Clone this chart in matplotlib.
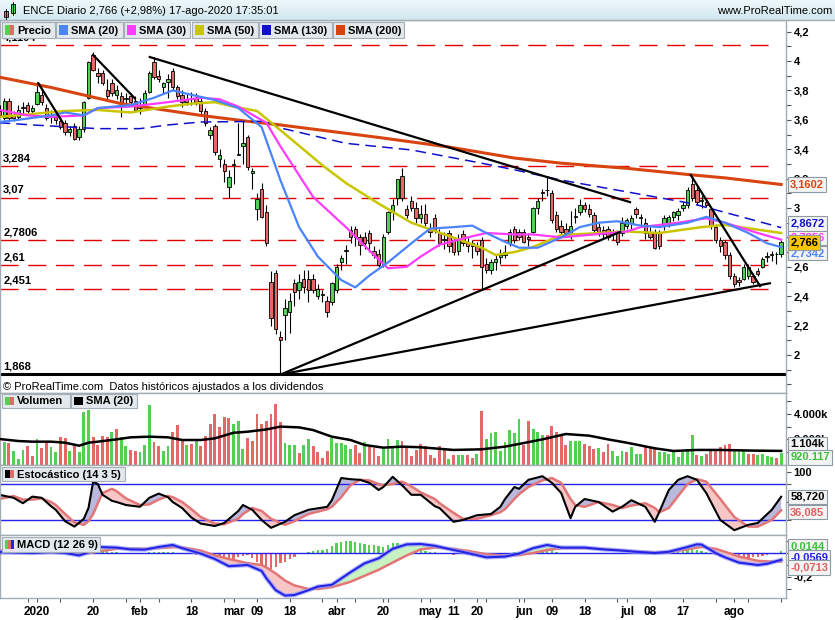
import numpy as np
import matplotlib
matplotlib.use("Agg")
import matplotlib.pyplot as plt
from matplotlib.patches import Rectangle
from matplotlib.colors import LinearSegmentedColormap

plt.rcParams['font.family'] = ['Liberation Sans', 'DejaVu Sans']

# ---- daily candles, 18-dic-2019 .. 17-ago-2020 (index = trading day)
opens = [3.66, 3.61, 3.73, 3.63, 3.62, 3.68, 3.70, 3.66, 3.71, 3.77,
         3.68, 3.63, 3.62, 3.59, 3.58, 3.52, 3.56, 3.48, 3.54, 3.75,
         4.04, 3.92, 3.92, 3.80, 3.85, 3.77, 3.76, 3.74, 3.76, 3.73,
         3.68, 3.71, 3.79, 3.99, 3.90, 3.82, 3.86, 3.93, 3.82, 3.77,
         3.74, 3.74, 3.75, 3.73, 3.66, 3.50, 3.56, 3.33, 3.30, 3.14,
         3.29, 3.36, 3.42, 3.48, 3.24, 2.99, 3.13, 2.97, 2.50, 2.56,
         2.12, 2.27, 2.29, 2.49, 2.44, 2.52, 2.52, 2.52, 2.40, 2.41,
         2.37, 2.36, 2.44, 2.63, 2.71, 2.85, 2.86, 2.80, 2.80, 2.83,
         2.71, 2.69, 2.61, 2.84, 2.97, 3.07, 3.22, 2.99, 3.05, 3.00,
         2.93, 2.96, 2.86, 2.93, 2.83, 2.78, 2.83, 2.78, 2.71, 2.82,
         2.76, 2.76, 2.74, 2.78, 2.62, 2.58, 2.63, 2.67, 2.68, 2.76,
         2.86, 2.84, 2.84, 2.80, 2.84, 3.00, 3.11, 3.12, 3.10, 2.95,
         2.88, 2.86, 2.81, 2.94, 2.97, 3.02, 2.99, 2.95, 2.87, 2.85,
         2.86, 2.82, 2.83, 2.83, 2.88, 2.90, 2.99, 2.93, 2.90, 2.84,
         2.84, 2.83, 2.88, 2.89, 2.94, 2.95, 3.00, 3.02, 3.16, 3.12,
         3.05, 3.04, 2.99, 2.87, 2.78, 2.77, 2.68, 2.54, 2.51, 2.52,
         2.54, 2.54, 2.57, 2.60, 2.67, 2.69, 2.69, 2.69]
highs = [3.70, 3.75, 3.75, 3.66, 3.70, 3.72, 3.72, 3.70, 3.86, 3.80,
         3.71, 3.67, 3.65, 3.61, 3.60, 3.56, 3.58, 3.56, 3.73, 4.00,
         4.06, 3.95, 3.94, 3.88, 3.88, 3.84, 3.79, 3.78, 3.78, 3.76,
         3.75, 3.80, 3.93, 4.03, 3.94, 3.86, 3.91, 3.95, 3.84, 3.80,
         3.78, 3.79, 3.78, 3.76, 3.68, 3.55, 3.57, 3.40, 3.33, 3.26,
         3.33, 3.58, 3.60, 3.50, 3.27, 3.10, 3.17, 3.02, 2.57, 2.58,
         2.16, 2.38, 2.42, 2.52, 2.55, 2.58, 2.58, 2.55, 2.48, 2.44,
         2.40, 2.50, 2.62, 2.68, 2.75, 2.88, 2.88, 2.82, 2.84, 2.85,
         2.74, 2.72, 2.82, 2.98, 3.06, 3.20, 3.27, 3.02, 3.08, 3.04,
         3.02, 3.03, 2.90, 2.96, 2.86, 2.84, 2.85, 2.80, 2.82, 2.85,
         2.80, 2.78, 2.77, 2.80, 2.66, 2.65, 2.68, 2.72, 2.75, 2.86,
         2.88, 2.86, 2.86, 2.83, 3.01, 3.07, 3.13, 3.22, 3.12, 2.98,
         2.92, 2.90, 2.98, 3.00, 3.06, 3.04, 3.03, 2.97, 2.90, 2.88,
         2.88, 2.86, 2.85, 2.94, 2.93, 2.95, 3.01, 2.96, 2.93, 2.87,
         2.86, 2.85, 2.95, 2.95, 2.98, 3.00, 3.04, 3.14, 3.22, 3.14,
         3.09, 3.06, 3.00, 2.89, 2.80, 2.78, 2.70, 2.56, 2.53, 2.62,
         2.62, 2.56, 2.59, 2.67, 2.70, 2.71, 2.70, 2.78]
lows = [3.62, 3.60, 3.59, 3.59, 3.60, 3.64, 3.64, 3.63, 3.70, 3.70,
        3.60, 3.58, 3.57, 3.54, 3.50, 3.49, 3.46, 3.46, 3.52, 3.74,
        3.93, 3.85, 3.84, 3.74, 3.76, 3.74, 3.62, 3.70, 3.70, 3.65,
        3.64, 3.70, 3.78, 3.88, 3.86, 3.78, 3.75, 3.80, 3.74, 3.69,
        3.70, 3.70, 3.70, 3.64, 3.56, 3.47, 3.36, 3.28, 3.18, 3.07,
        3.16, 3.36, 3.30, 3.26, 3.13, 2.92, 2.93, 2.74, 2.20, 2.14,
        1.868, 2.10, 2.15, 2.33, 2.38, 2.42, 2.36, 2.42, 2.38, 2.36,
        2.26, 2.34, 2.42, 2.58, 2.62, 2.76, 2.74, 2.68, 2.72, 2.70,
        2.66, 2.60, 2.60, 2.82, 2.92, 3.02, 3.05, 2.93, 2.98, 2.90,
        2.90, 2.88, 2.80, 2.83, 2.74, 2.72, 2.70, 2.68, 2.68, 2.74,
        2.70, 2.66, 2.68, 2.44, 2.56, 2.55, 2.58, 2.62, 2.66, 2.74,
        2.76, 2.78, 2.76, 2.74, 2.83, 2.96, 3.05, 3.08, 2.90, 2.84,
        2.80, 2.80, 2.79, 2.90, 2.95, 2.97, 2.94, 2.84, 2.81, 2.79,
        2.78, 2.78, 2.75, 2.81, 2.86, 2.86, 2.93, 2.88, 2.79, 2.79,
        2.72, 2.72, 2.85, 2.87, 2.91, 2.92, 2.98, 3.00, 3.05, 3.02,
        3.00, 3.01, 2.86, 2.76, 2.70, 2.65, 2.52, 2.46, 2.47, 2.51,
        2.52, 2.48, 2.54, 2.59, 2.63, 2.64, 2.62, 2.67]
closes = [3.63, 3.73, 3.61, 3.61, 3.67, 3.69, 3.66, 3.68, 3.79, 3.72,
          3.61, 3.62, 3.60, 3.55, 3.52, 3.54, 3.47, 3.54, 3.72, 3.99,
          3.94, 3.90, 3.85, 3.76, 3.78, 3.80, 3.72, 3.75, 3.72, 3.67,
          3.70, 3.78, 3.92, 3.89, 3.88, 3.85, 3.88, 3.82, 3.76, 3.72,
          3.72, 3.75, 3.72, 3.66, 3.58, 3.53, 3.38, 3.36, 3.25, 3.21,
          3.30, 3.37, 3.44, 3.28, 3.25, 3.06, 2.94, 2.76, 2.25, 2.18,
          2.10, 2.32, 2.37, 2.43, 2.50, 2.46, 2.44, 2.44, 2.45, 2.41,
          2.29, 2.49, 2.60, 2.66, 2.71, 2.80, 2.80, 2.75, 2.76, 2.76,
          2.68, 2.61, 2.80, 2.97, 3.02, 3.20, 3.07, 2.95, 3.00, 2.93,
          2.96, 2.90, 2.84, 2.85, 2.76, 2.79, 2.74, 2.70, 2.79, 2.76,
          2.74, 2.74, 2.71, 2.60, 2.58, 2.63, 2.65, 2.68, 2.70, 2.84,
          2.78, 2.80, 2.77, 2.79, 3.00, 3.05, 3.10, 3.12, 2.92, 2.86,
          2.84, 2.83, 2.88, 2.94, 3.02, 2.99, 2.96, 2.85, 2.84, 2.82,
          2.80, 2.83, 2.77, 2.90, 2.92, 2.93, 2.96, 2.94, 2.83, 2.80,
          2.73, 2.74, 2.93, 2.94, 2.97, 2.98, 3.02, 3.12, 3.07, 3.04,
          3.05, 3.02, 2.88, 2.78, 2.74, 2.68, 2.54, 2.48, 2.50, 2.60,
          2.60, 2.50, 2.55, 2.65, 2.67, 2.68, 2.686, 2.766]

# volume in thousands, and bar colour (g = up, r = down)
volumes = [1500, 1830, 1750, 1120, 470, 1180, 1490, 706, 2040, 1330,
           1830, 1410, 1045, 2195, 2090, 1120, 1570, 1045, 4180, 4310,
           2220, 1570, 2270, 2170, 2610, 2820, 2220, 1490, 1180, 1120,
           1045, 1570, 4700, 1780, 1515, 1120, 1490, 2560, 3140, 2010,
           1570, 1650, 1960, 1490, 2270, 3215, 4000, 3005, 3790, 3710,
           3190, 3450, 1255, 2090, 1880, 3970, 3190, 3475, 3970, 4780,
           3370, 1750, 1570, 1570, 915, 1570, 2010, 1515, 995, 575,
           1100, 2090, 1700, 1700, 1570, 1255, 1570, 915, 1830, 1440,
           1310, 706, 1255, 2040, 1440, 1960, 1880, 1440, 706, 1180,
           1620, 1500, 785, 525, 1490, 1180, 470, 785, 785, 785,
           785, 575, 860, 4230, 2040, 2530, 2610, 1120, 1830, 2740,
           2480, 3580, 1570, 3450, 2790, 2610, 2350, 2350, 3060, 2610,
           2430, 1570, 1880, 1880, 1880, 1650, 1490, 1255, 1310, 995,
           1650, 1120, 706, 1100, 1045, 1390, 865, 865, 1390, 1390,
           1390, 1045, 1045, 865, 1045, 628, 1045, 1230, 2350, 785,
           706, 865, 1230, 1230, 1390, 1570, 1650, 1230, 1120, 1120,
           865, 865, 785, 865, 706, 650, 575, 920]
vol_dir = ("rgrgggrrgr" "rggrrgrggg" "rrrrgrggrr" "gggrrggrrr" "grgrrrrrrr"
           "gggrrrrrrr" "rgggrggrrr" "rgggggrrgr" "rrggggrrrr" "rrrrrrgrgg"
           "rrgrgggggg" "ggrrgggrrr" "rrgggrrrgr" "rgggrgggrr" "rggggggggr"
           "grrrrrrggg" "rrggggrg")

# moving averages: (day, value)
sma20_x = [0, 4, 11, 14, 18, 21, 28, 33, 37, 41, 46, 51, 56, 60, 64, 68, 73, 76, 79, 83,
           88, 92, 97, 101, 104, 108, 111, 115, 120, 124, 128, 132, 137, 141, 147, 151, 155, 160, 164, 167]
sma20_y = [3.585, 3.60, 3.63, 3.65, 3.63, 3.68, 3.70, 3.75, 3.80, 3.77, 3.735, 3.68, 3.55, 3.19, 2.87,
           2.67, 2.51, 2.46, 2.54, 2.63, 2.76, 2.86, 2.87, 2.88, 2.83, 2.77, 2.73, 2.73, 2.80, 2.87,
           2.90, 2.91, 2.88, 2.87, 2.90, 2.94, 2.90, 2.83, 2.76, 2.734]
sma30_x = [0, 6, 11, 18, 21, 28, 36, 43, 47, 51, 57, 60, 67, 74, 80, 83, 87, 90, 94, 100,
           104, 110, 114, 120, 134, 137, 145, 151, 155, 162, 167]
sma30_y = [3.667, 3.63, 3.62, 3.63, 3.68, 3.69, 3.72, 3.75, 3.74, 3.69, 3.58, 3.42, 3.075, 2.87, 2.68,
           2.59, 2.60, 2.67, 2.75, 2.80, 2.83, 2.82, 2.82, 2.80, 2.84, 2.87, 2.90, 2.93, 2.90, 2.83, 2.785]
sma50_x = [0, 7, 14, 21, 28, 36, 41, 46, 50, 55, 60, 69, 74, 81, 88, 96, 103, 106, 110, 114,
           120, 134, 141, 150, 155, 167]
sma50_y = [3.62, 3.64, 3.66, 3.667, 3.65, 3.69, 3.71, 3.72, 3.69, 3.66, 3.53, 3.29, 3.17, 3.03, 2.90,
           2.81, 2.73, 2.68, 2.70, 2.735, 2.816, 2.84, 2.83, 2.87, 2.885, 2.83]
sma130_x = [0, 7, 21, 30, 36, 43, 57, 60, 74, 88, 103, 110, 120, 148, 167]
sma130_y = [3.58, 3.565, 3.54, 3.54, 3.565, 3.585, 3.59, 3.545, 3.44, 3.395, 3.305, 3.26, 3.19, 3.03, 2.867]
sma200_x = [0, 11, 26, 43, 53, 60, 81, 96, 110, 120, 134, 148, 155, 167]
sma200_y = [3.89, 3.82, 3.71, 3.63, 3.59, 3.565, 3.48, 3.415, 3.34, 3.305, 3.27, 3.225, 3.205, 3.16]

# drawn support / resistance levels and trend lines
levels = [4.1104, 3.284, 3.07, 2.7806, 2.61, 2.451]
level_labels = ['4,1104', '3,284', '3,07', '2,7806', '2,61', '2,451']
support = 1.868
trend_x0 = [8.3, 20.0, 32.1, 60.1, 60.1, 147.7]
trend_y0 = [3.848, 4.041, 4.027, 1.868, 1.868, 3.224]
trend_x1 = [13.6, 28.9, 134.7, 132.6, 164.6, 162.5]
trend_y1 = [3.576, 3.746, 3.040, 2.837, 2.488, 2.469]

# volume SMA(20)
vsma_x = [0, 4, 7, 11, 14, 17, 19, 21, 25, 28, 32, 36, 39, 43, 46, 50, 53, 57, 60, 64, 67,
          71, 75, 78, 82, 86, 90, 97, 103, 108, 111, 116, 121, 126, 130, 134, 140, 144, 149, 154, 161, 167]
vsma_y = [2040, 1880, 1830, 1830, 1750, 1515, 1750, 1830, 2010, 2170, 2220, 2170, 1960, 1960, 2090,
          2530, 2610, 2790, 3010, 2950, 2740, 2220, 1960, 1570, 1360, 1440, 1390, 1180, 1230, 1440,
          1650, 2010, 2430, 2300, 2010, 1750, 1310, 1100, 1180, 1180, 1130, 1104]

# stochastic (14 3 5)
st_x = [0, 3, 5, 7, 9, 11, 12, 14, 16, 18, 19, 20, 21, 22, 24, 25, 27, 30, 32, 34, 36, 37, 39, 41,
        43, 46, 48, 51, 52, 54, 56, 58, 61, 63, 66, 70, 71, 73, 75, 77, 79, 81, 82, 84, 86, 88, 90,
        93, 94, 97, 99, 102, 105, 107, 108, 110, 111, 113, 116, 118, 120, 122, 123, 125, 128, 131,
        133, 135, 138, 140, 141, 143, 145, 147, 149, 151, 154, 157, 160, 162, 165, 167]
st_k = [62, 57, 48, 59, 57, 43, 37, 18, 9, 22, 40, 84, 80, 62, 52, 50, 45, 42, 57, 64, 58, 50, 40, 24,
        14, 10, 15, 35, 45, 37, 20, 7, 17, 28, 37, 42, 53, 90, 88, 87, 82, 70, 75, 92, 78, 62, 62,
        43, 40, 17, 20, 28, 30, 42, 55, 75, 72, 87, 93, 82, 65, 23, 42, 55, 50, 34,
        42, 53, 42, 17, 34, 70, 87, 93, 87, 65, 20, 3, 12, 15, 37, 58.72]
st_d = [55, 60, 54, 54, 56, 50, 45, 30, 16, 12, 18, 30, 48, 65, 72, 68, 56, 45, 46, 54, 60, 58, 50, 38,
        25, 14, 13, 22, 30, 40, 35, 22, 12, 18, 30, 38, 42, 58, 78, 87, 86, 80, 78, 80, 84, 76, 66,
        55, 48, 32, 22, 22, 28, 33, 38, 55, 63, 75, 86, 90, 82, 55, 45, 42, 50, 45,
        40, 44, 48, 40, 33, 40, 60, 80, 88, 84, 55, 25, 9, 9, 20, 36.085]

# MACD (12 26 9)
m_x = [0, 7, 11, 14, 17, 19, 21, 25, 28, 31, 34, 37, 39, 43, 46, 49, 53, 56, 57, 59, 61, 63, 66, 68,
       71, 75, 78, 81, 84, 87, 90, 93, 97, 100, 104, 108, 111, 114, 117, 120, 123, 125, 129, 133,
       136, 140, 143, 147, 149, 150, 153, 155, 158, 162, 164, 167]
m_macd = [0.01, 0.0, 0.01, 0.0, -0.02, 0.005, 0.05, 0.045, 0.03, 0.028, 0.05, 0.067, 0.04, -0.005,
          -0.05, -0.11, -0.10, -0.15, -0.21, -0.31, -0.355, -0.35, -0.31, -0.28, -0.265, -0.16, -0.086,
          -0.044, 0.035, 0.072, 0.075, 0.06, 0.025, 0.0, -0.036, -0.03, -0.005, 0.04, 0.067, 0.045,
          0.045, 0.045, 0.03, 0.02, 0.01, 0.0, 0.01, 0.05, 0.072, 0.07, 0.0, -0.036, -0.08, -0.1, -0.09,
          -0.0569]
m_signal = [0.02, 0.01, 0.008, 0.005, -0.003, -0.002, 0.012, 0.035, 0.038, 0.035, 0.04, 0.048, 0.048,
            0.02, -0.02, -0.05, -0.085, -0.1, -0.12, -0.17, -0.23, -0.27, -0.3, -0.3, -0.285, -0.24,
            -0.19, -0.14, -0.08, -0.02, 0.03, 0.045, 0.035, 0.018, -0.01, -0.022, -0.018, 0.0, 0.025,
            0.04, 0.04, 0.04, 0.033, 0.022, 0.012, 0.005, 0.008, 0.03, 0.045, 0.05, 0.035, 0.01, -0.03,
            -0.065, -0.07, -0.0713]
m_hist = [0.005, 0.004, 0.003, 0.0, -0.003, -0.005, -0.004, -0.002, 0.003, 0.002,
          -0.002, -0.005, -0.008, -0.01, -0.012, -0.012, -0.01, -0.004, 0.005, 0.015,
          0.02, 0.022, 0.02, 0.015, 0.01, 0.005, -0.002, -0.006, -0.008, -0.008,
          -0.005, 0.003, 0.01, 0.012, 0.012, 0.01, 0.008, 0.005, -0.004, -0.008,
          -0.01, -0.012, -0.015, -0.016, -0.02, -0.024, -0.03, -0.044, -0.058, -0.072,
          -0.055, -0.036, -0.025, -0.017, -0.044, -0.072, -0.1, -0.128, -0.133, -0.114,
          -0.086, -0.072, -0.053, -0.03, -0.008, 0.0, 0.005, 0.015, 0.025, 0.025,
          0.035, 0.06, 0.08, 0.09, 0.1, 0.1, 0.095, 0.086, 0.075, 0.07,
          0.065, 0.06, 0.053, 0.07, 0.086, 0.08, 0.065, 0.055, 0.05, 0.04,
          0.03, 0.02, 0.012, 0.005, -0.005, -0.01, -0.012, -0.015, -0.012, -0.01,
          -0.018, -0.022, -0.025, -0.03, -0.028, -0.025, -0.02, -0.012, -0.005, 0.003,
          0.008, 0.012, 0.015, 0.022, 0.03, 0.036, 0.04, 0.035, 0.025, 0.012,
          0.0, -0.01, -0.012, -0.008, -0.004, 0.003, 0.004, 0.002, -0.003, -0.007,
          -0.01, -0.011, -0.01, -0.006, -0.004, -0.003, 0.0, 0.002, -0.003, -0.006,
          -0.008, -0.006, -0.002, 0.004, 0.01, 0.016, 0.022, 0.028, 0.03, 0.025,
          0.018, 0.008, -0.008, -0.02, -0.03, -0.038, -0.045, -0.048, -0.05, -0.045,
          -0.04, -0.035, -0.03, -0.025, -0.018, -0.01, -0.004, 0.0144]

date_pos = [8, 20, 30, 41, 50, 55, 62, 72, 82, 92, 97, 102, 112, 118, 125, 134, 139, 146, 157]
date_lbl = ['2020', '20', 'feb', '18', 'mar', '09', '18', 'abr', '20', 'may', '11', '20',
            'jun', '09', '18', 'jul', '08', '17', 'ago']

GREEN, RED = '#52d052', '#e36868'
GRID = '#a3acb3'

W, H = 835, 620
fig = plt.figure(figsize=(W / 100, H / 100), dpi=100)


def rect(top, bottom, left=0, right=786):
    return [left / W, 1 - bottom / H, (right - left) / W, (bottom - top) / H]


ax_p = fig.add_axes(rect(20, 393))
ax_v = fig.add_axes(rect(393, 465))
ax_s = fig.add_axes(rect(465, 535))
ax_m = fig.add_axes(rect(535, 598))
days = np.arange(len(closes))

for ax in (ax_p, ax_v, ax_s, ax_m):
    ax.set_xlim(0.094, 168.04)
    for sp in ax.spines.values():
        sp.set_color(GRID)
        sp.set_linewidth(1)
    ax.yaxis.tick_right()
    ax.tick_params(axis='y', which='both', length=3.5, width=0.8, colors='#555555',
                   labelcolor='black', pad=2, labelsize=8)
    if ax is not ax_m:
        ax.set_xticks([])


def price_fmt(v):
    return f'{v:g}'.replace('.', ',')


def value_box(ax, y, text, color, dy=0, fc='#f3f3f3', z=30):
    ax.annotate(text, xy=(1.0, y), xycoords=ax.get_yaxis_transform(), xytext=(3, dy),
                textcoords='offset points', ha='left', va='center', fontsize=8,
                fontweight='bold', color=color, annotation_clip=False, zorder=z,
                bbox=dict(boxstyle='square,pad=0.2', fc=fc, ec='#8e9ba5', lw=0.8))


# ---- price panel
ax = ax_p
ax.set_ylim(1.7415, 4.279)
for lv, lab in zip(levels, level_labels):
    ax.hlines(lv, 0, 166, colors='#e00000', lw=1, linestyles=(0, (13, 7)), zorder=1)
    ax.annotate(lab, xy=(0.004, lv), xycoords=ax.get_yaxis_transform(), xytext=(0, 2),
                textcoords='offset points', fontsize=8, fontweight='bold', va='bottom')
ax.axhline(support, color='black', lw=2.2, zorder=1)
ax.annotate('1,868', xy=(0.004, support), xycoords=ax.get_yaxis_transform(), xytext=(0, 2),
            textcoords='offset points', fontsize=8, fontweight='bold', va='bottom')

o, h, l, c = (np.array(a) for a in (opens, highs, lows, closes))
up = c >= o
ax.vlines(days, l, h, color='black', lw=0.8, zorder=3)
ax.bar(days, np.maximum(np.abs(c - o), 0.004), bottom=np.minimum(o, c), width=0.72,
       color=[GREEN if u else RED for u in up], edgecolor='black', linewidth=0.6, zorder=4)

ax.plot(sma200_x, sma200_y, color='#d8440f', lw=2.2, zorder=5)
ax.plot(sma130_x, sma130_y, color='#1010cc', lw=1.1, ls=(0, (7, 4)), zorder=5)
ax.plot(sma50_x, sma50_y, color='#c9c600', lw=1.8, zorder=5)
ax.plot(sma30_x, sma30_y, color='#ff3cff', lw=1.6, zorder=5)
ax.plot(sma20_x, sma20_y, color='#4a84ff', lw=1.6, zorder=5)
for x0, y0, x1, y1 in zip(trend_x0, trend_y0, trend_x1, trend_y1):
    ax.plot([x0, x1], [y0, y1], color='black', lw=1.6, zorder=6)

maj = [2.0, 2.2, 2.4, 2.6, 2.8, 3.0, 3.2, 3.4, 3.6, 3.8, 4.0, 4.2]
ax.set_yticks(maj)
ax.set_yticklabels([price_fmt(v) for v in maj], fontweight='bold')
ax.set_yticks(np.arange(1.8, 4.25, 0.1), minor=True)
ax.text(0.004, 0.004, '© ProRealTime.com  Datos históricos ajustados a los dividendos',
        transform=ax.transAxes, fontsize=8, va='bottom')

value_box(ax, sma200_y[-1], '3,1602', '#d8440f')
value_box(ax, 2.7856, '2,7856', '#ff3cff', dy=1.4, z=28)
value_box(ax, sma130_y[-1], '2,8672', '#1010cc', dy=2.9, z=29)
value_box(ax, sma20_y[-1], '2,7342', '#4a84ff', dy=-4.3, z=30)
value_box(ax, closes[-1], '2,766', 'black', fc='#f7c600', z=31)

# ---- volume panel
ax = ax_v
ax.set_ylim(0, 5647)
ax.bar(days, volumes, width=0.62, color=[GREEN if d == 'g' else RED for d in vol_dir], zorder=2)
ax.plot(vsma_x, vsma_y, color='black', lw=1.8, zorder=3)
ax.set_yticks([2000, 4000])
ax.set_yticklabels(['2.000k', '4.000k'], fontweight='bold')
ax.set_yticks([1000, 3000, 5000], minor=True)
value_box(ax, 1104, '1.104k', 'black', dy=4.7)
value_box(ax, volumes[-1], '920.117', '#3cc03c', dy=-3)

# ---- stochastic panel
ax = ax_s
ax.set_ylim(-5, 111.7)
K, D = np.array(st_k), np.array(st_d)
ax.fill_between(st_x, K, D, where=K >= D, interpolate=True, color='#b9b9de', lw=0)
ax.fill_between(st_x, K, D, where=K < D, interpolate=True, color='#f7c6c6', lw=0)
ax.axhline(80, color='#2424ee', lw=1)
ax.axhline(20, color='#2424ee', lw=1)
ax.plot(st_x, D, color='#e27575', lw=1.8)
ax.plot(st_x, K, color='black', lw=1.5)
ax.set_yticks([100])
ax.set_yticklabels(['100'], fontweight='bold')
ax.set_yticks([20, 50, 80], minor=True)
value_box(ax, st_k[-1], '58,720', 'black')
value_box(ax, st_d[-1], '36,085', '#e06060', dy=-1.2)

# ---- MACD panel
ax = ax_m
ax.set_ylim(-0.375, 0.15)
ax.bar(days, m_hist, width=0.5, color=[GREEN if v >= 0 else RED for v in m_hist], zorder=2)
ax.axhline(0, color='#2424ee', lw=1, zorder=3)
Mv, Sv = np.array(m_macd), np.array(m_signal)
ax.fill_between(m_x, Mv, Sv, where=Mv >= Sv, interpolate=True, color='#c8f2c2', lw=0, zorder=3)
ax.fill_between(m_x, Mv, Sv, where=Mv < Sv, interpolate=True, color='#f7c6c6', lw=0, zorder=3)
ax.plot(m_x, Sv, color='#e27575', lw=1.8, zorder=4)
ax.plot(m_x, Mv, color='#9098ff', lw=3.2, alpha=0.7, zorder=4)
ax.plot(m_x, Mv, color='#2424e6', lw=1.5, zorder=5)
ax.set_yticks([-0.2])
ax.set_yticklabels(['-0,2'], fontweight='bold')
ax.set_yticks([0.1, 0.0, -0.1, -0.3], minor=True)
value_box(ax, m_hist[-1], '0,0144', '#3cc03c', dy=3.5)
value_box(ax, m_macd[-1], '-0,0569', '#2424e6', dy=2)
value_box(ax, m_signal[-1], '-0,0713', '#e06060', dy=-4.2)
ax.set_xticks(date_pos)
ax.set_xticklabels(date_lbl, fontweight='bold', fontsize=8.5)
ax.set_xticks(list(range(6, 168, 7)), minor=True)
ax.tick_params(axis='x', which='both', direction='out', length=3, width=0.8,
               colors='#555555', labelcolor='black', pad=3)

# ---- header, legends (pixel overlay)
ov = fig.add_axes([0, 0, 1, 1], zorder=10)
ov.patch.set_alpha(0)
cmap = LinearSegmentedColormap.from_list('hdr', ['#eef8fb', '#d2e7ef'])
ov.imshow(np.linspace(0, 1, 20).reshape(-1, 1), cmap=cmap, aspect='auto', extent=(0, W, 20, 0))
ov.plot([0, W], [20, 20], color=GRID, lw=1)
ov.set_xlim(0, W)
ov.set_ylim(H, 0)
ov.axis('off')
# small candle icon
ov.add_patch(Rectangle((4, 11), 4, 6, fc=RED, ec='black', lw=0.6))
ov.plot([6, 6], [9, 19], color='black', lw=0.6)
ov.add_patch(Rectangle((11, 4), 4, 9, fc=GREEN, ec='black', lw=0.6))
ov.plot([13, 13], [2, 15], color='black', lw=0.6)
ov.text(23, 10.5, 'ENCE Diario 2,766 (+2,98%) 17-ago-2020 17:35:01', fontsize=8, va='center')
ov.text(832, 10.5, 'www.ProRealTime.com', fontsize=8, va='center', ha='right')


def legend_box(x0, x1, y0, y1, text, colors):
    ov.add_patch(Rectangle((x0, y0), x1 - x0, y1 - y0, fc='#e2e8ec', ec='#a4afb7', lw=0.8))
    sw = 9 / len(colors)
    for k, col in enumerate(colors):
        ov.add_patch(Rectangle((x0 + 3 + k * sw, y0 + 3), sw, y1 - y0 - 6, fc=col, ec='none'))
    ov.text(x0 + 15, (y0 + y1) / 2 + 0.5, text, fontsize=8, fontweight='bold', va='center')


legend_box(2, 55, 22, 38, 'Precio', [GREEN, RED])
legend_box(56, 123, 22, 38, 'SMA (20)', ['#4a84ff'])
legend_box(124, 190, 22, 38, 'SMA (30)', ['#ff3cff'])
legend_box(192, 258, 22, 38, 'SMA (50)', ['#c9c600'])
legend_box(259, 332, 22, 38, 'SMA (130)', ['#1010cc'])
legend_box(333, 404, 22, 38, 'SMA (200)', ['#d8440f'])
legend_box(2, 70, 394, 408, 'Volumen', [GREEN, RED])
legend_box(71, 137, 394, 408, 'SMA (20)', ['black'])
legend_box(2, 125, 467, 481, 'Estocástico (14 3 5)', ['black', RED])
legend_box(2, 100, 537, 552, 'MACD (12 26 9)', [GREEN, RED, '#2424e6'])

fig.savefig('out.png', dpi=100)
